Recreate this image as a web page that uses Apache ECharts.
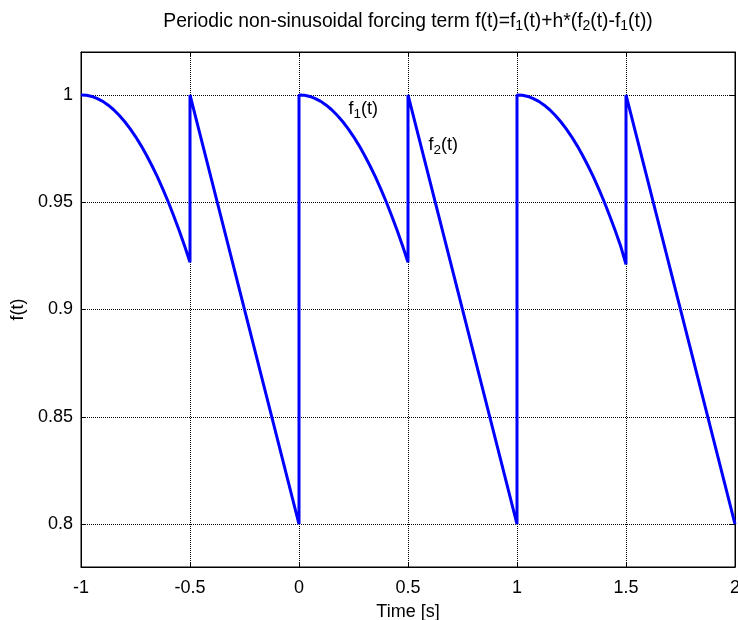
<!DOCTYPE html>
<html>
<head>
<meta charset="utf-8">
<script src="https://cdn.jsdelivr.net/npm/echarts@6/dist/echarts.min.js"></script>
<style>
  html, body { margin: 0; padding: 0; background: #fff; }
  #chart { width: 738px; height: 620px; }
</style>
</head>
<body>
<div id="chart"></div>
<script>
// Sampled forcing term over three periods: the f1 arc on each first half,
// then the jump to 1 and the straight f2 ramp down to 0.8 on each second half.
const timeS = [
  -1, -0.975, -0.95, -0.925, -0.9, -0.875, -0.85, -0.825, -0.8, -0.775, -0.75,
  -0.725, -0.7, -0.675, -0.65, -0.625, -0.6, -0.575, -0.55, -0.525, -0.5, -0.5, 0,
  0, 0.025, 0.05, 0.075, 0.1, 0.125, 0.15, 0.175, 0.2, 0.225, 0.25,
  0.275, 0.3, 0.325, 0.35, 0.375, 0.4, 0.425, 0.45, 0.475, 0.5, 0.5, 1,
  1, 1.025, 1.05, 1.075, 1.1, 1.125, 1.15, 1.175, 1.2, 1.225, 1.25,
  1.275, 1.3, 1.325, 1.35, 1.375, 1.4, 1.425, 1.45, 1.475, 1.5, 1.5, 2
];
const forcing = [
  1.0000, 0.9998, 0.9993, 0.9983, 0.9970, 0.9952, 0.9931, 0.9905, 0.9876, 0.9843, 0.9806,
  0.9765, 0.9720, 0.9671, 0.9619, 0.9562, 0.9502, 0.9437, 0.9369, 0.9297, 0.9220, 1.0000, 0.8000,
  1.0000, 0.9998, 0.9993, 0.9983, 0.9970, 0.9952, 0.9931, 0.9905, 0.9876, 0.9843, 0.9806,
  0.9765, 0.9720, 0.9671, 0.9619, 0.9562, 0.9502, 0.9437, 0.9369, 0.9297, 0.9220, 1.0000, 0.8000,
  1.0000, 0.9998, 0.9993, 0.9983, 0.9970, 0.9952, 0.9931, 0.9905, 0.9876, 0.9843, 0.9806,
  0.9765, 0.9720, 0.9671, 0.9619, 0.9562, 0.9502, 0.9437, 0.9369, 0.9297, 0.9210, 1.0000, 0.8000
];
const xTicks = [-1, -0.5, 0, 0.5, 1, 1.5, 2];
const yTicks = [0.8, 0.85, 0.9, 0.95, 1];
// Where the two curve names sit, in data units
const curveNames = [
  { name: 'f1', sub: '1', at: [0.225, 0.9935] },
  { name: 'f2', sub: '2', at: [0.592, 0.9765] }
];

const FONT = '"Liberation Sans", Arial, Helvetica, sans-serif';
const BLACK = '#000';

const chart = echarts.init(document.getElementById('chart'), null, { renderer: 'canvas' });

const points = timeS.map((t, i) => [t, forcing[i]]);

const gridLines = [];
xTicks.forEach(v => gridLines.push({ xAxis: v }));
yTicks.forEach(v => gridLines.push({ yAxis: v }));

const subRich = {
  n: { fontFamily: FONT, fontSize: 19.3, fontWeight: 'normal', color: BLACK, lineHeight: 22, verticalAlign: 'middle' },
  s: { fontFamily: FONT, fontSize: 14, fontWeight: 'normal', color: BLACK, lineHeight: 11, verticalAlign: 'bottom' }
};
const labelRich = {
  n: { fontFamily: FONT, fontSize: 18, color: BLACK, lineHeight: 24, verticalAlign: 'middle' },
  s: { fontFamily: FONT, fontSize: 13.5, color: BLACK, lineHeight: 12, verticalAlign: 'bottom' }
};

const axisCommon = {
  type: 'value',
  axisLine: { show: true, onZero: false, lineStyle: { color: BLACK, width: 1 } },
  axisTick: { show: true, inside: true, length: 5, lineStyle: { color: BLACK } },
  splitLine: { show: false }
};

chart.setOption({
  animation: false,
  backgroundColor: '#fff',
  title: {
    text: '{n|Periodic non-sinusoidal forcing term f(t)=f}{s|1}{n|(t)+h*(f}{s|2}{n|(t)-f}{s|1}{n|(t))}',
    left: 403,
    top: 6,
    textAlign: 'center',
    textStyle: { fontWeight: 'normal', rich: subRich }
  },
  grid: {
    left: 81, right: 3, top: 52, bottom: 53,
    outerBoundsMode: 'none', containLabel: false,
    show: true, borderColor: BLACK, borderWidth: 1
  },
  xAxis: [
    Object.assign({}, axisCommon, {
      position: 'bottom', min: -1, max: 2, interval: 0.5,
      name: 'Time [s]', nameLocation: 'middle', nameGap: 36,
      nameTextStyle: { fontFamily: FONT, fontSize: 18, color: BLACK },
      axisLabel: { fontFamily: FONT, fontSize: 18, color: BLACK, margin: 12 }
    }),
    Object.assign({}, axisCommon, {
      position: 'top', min: -1, max: 2, interval: 0.5,
      axisLabel: { show: false }
    })
  ],
  yAxis: [
    Object.assign({}, axisCommon, {
      position: 'left', min: 0.78, max: 1.02,
      name: 'f(t)', nameLocation: 'middle', nameGap: 52,
      nameTextStyle: { fontFamily: FONT, fontSize: 18, color: BLACK },
      axisTick: { show: true, inside: true, length: 5, lineStyle: { color: BLACK }, customValues: yTicks },
      axisLabel: { fontFamily: FONT, fontSize: 18, color: BLACK, margin: 8, customValues: yTicks }
    }),
    Object.assign({}, axisCommon, {
      position: 'right', min: 0.78, max: 1.02,
      axisTick: { show: true, inside: true, length: 5, lineStyle: { color: BLACK }, customValues: yTicks },
      axisLabel: { show: false, customValues: yTicks }
    })
  ],
  series: [
    {
      // dotted grid at each tick, kept underneath the curve
      type: 'line',
      data: [],
      z: 1,
      silent: true,
      markLine: {
        z: 1,
        silent: true,
        symbol: ['none', 'none'],
        label: { show: false },
        lineStyle: { color: BLACK, type: [1, 1], width: 1 },
        emphasis: { disabled: true },
        data: gridLines
      }
    },
    {
      type: 'line',
      data: points,
      z: 3,
      showSymbol: false,
      symbol: 'none',
      lineStyle: { color: '#0000ff', width: 3 },
      markPoint: {
        z: 4,
        symbol: 'circle',
        symbolSize: 1,
        itemStyle: { color: 'rgba(0,0,0,0)' },
        label: {
          show: true,
          position: 'right',
          distance: 0,
          formatter: p => '{n|f}{s|' + p.data.sub + '}{n|(t)}',
          rich: labelRich
        },
        data: curveNames.map(c => ({ coord: c.at, sub: c.sub, name: c.name }))
      }
    }
  ]
});
</script>
</body>
</html>
